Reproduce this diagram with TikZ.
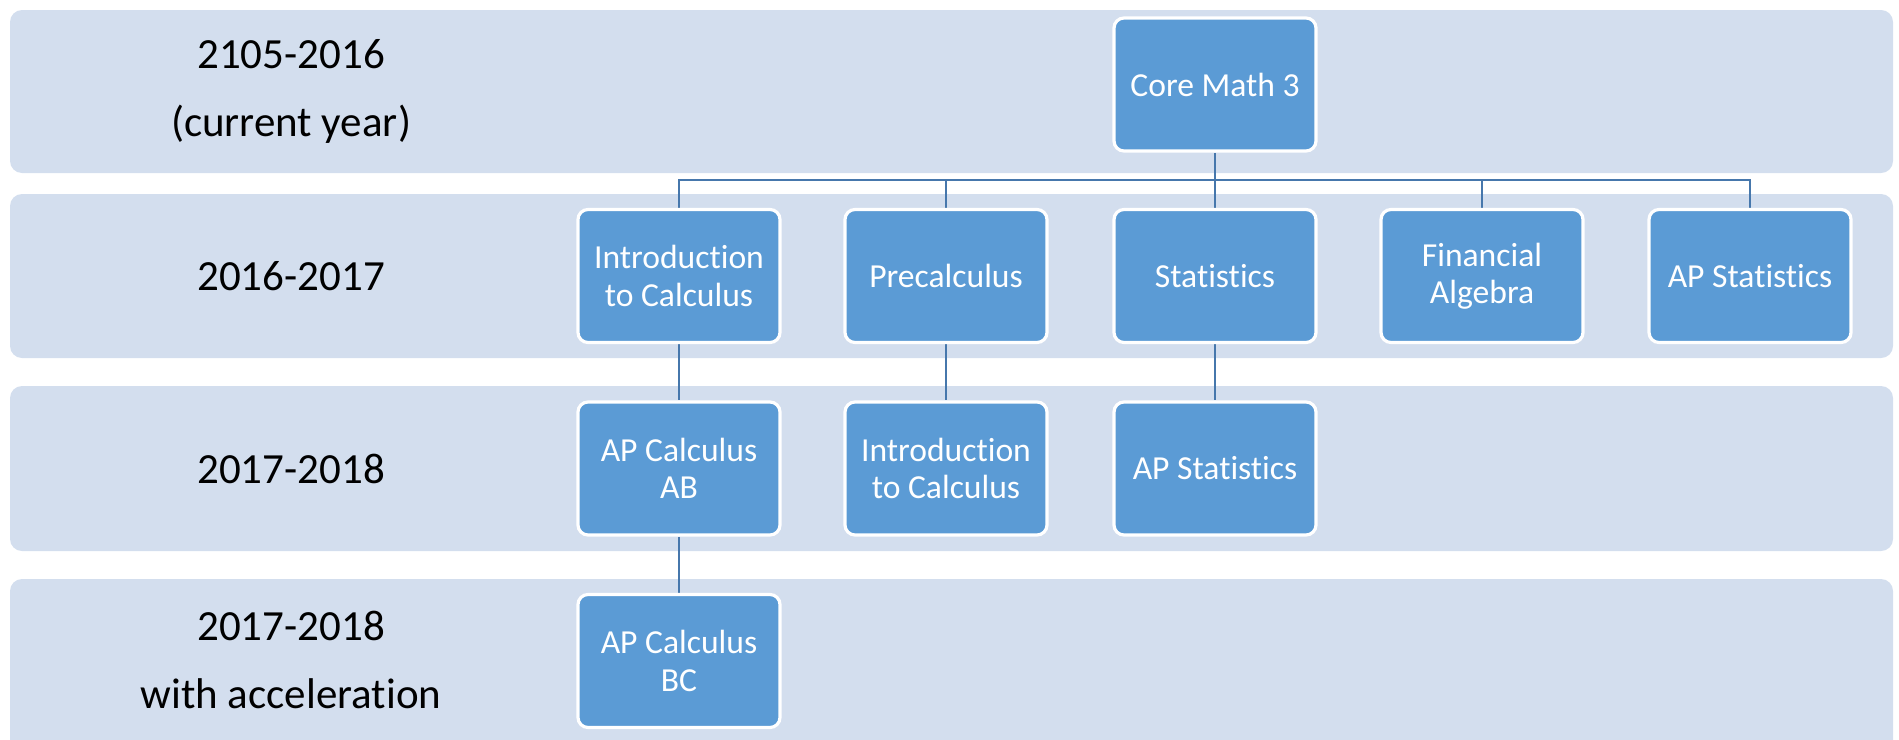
\documentclass[tikz,border=0pt]{standalone}
\usepackage{fontspec}
\setmainfont{Carlito}[Ligatures={NoCommon}]
\usetikzlibrary{backgrounds}
\definecolor{bandc}{HTML}{D3DEEE}
\definecolor{boxc}{HTML}{5B9BD5}
\definecolor{linec}{HTML}{4677AC}
\begin{document}
\begin{tikzpicture}[x=0.5pt,y=-0.5pt,
  course/.style={draw=white, line width=1.6pt, fill=boxc, rounded corners=5pt,
    minimum width=101pt, minimum height=66.5pt, align=center, text=white,
    font=\fontsize{16.8}{18.7}\selectfont, inner sep=0pt},
  yearlabel/.style={align=center, font=\fontsize{21.5}{34}\selectfont, text=black, inner sep=0pt},
  band/.style={fill=bandc, rounded corners=6pt},
  link/.style={draw=linec, line width=1.1pt}]
\useasboundingbox (0,0) rectangle (1899,739);
% year labels
\node[yearlabel] (y1) at (291,91) {2105-2016\\(current year)};
\node[yearlabel] (y2) at (291,276) {2016-2017};
\node[yearlabel] (y3) at (291,469) {2017-2018};
\node[yearlabel] (y4) at (291,660) {2017-2018\\with acceleration};
% courses
\node[course] (core) at (1215,84.5) {Core Math 3};
\node[course] (intro1) at (679,276) {Introduction\\to Calculus};
\node[course] (precalc) at (946,276) {Precalculus};
\node[course] (stats) at (1215,276) {Statistics};
\node[course] (fin) at (1482,276) {Financial\\Algebra};
\node[course] (apstat1) at (1750,276) {AP Statistics};
\node[course] (apab) at (679,468.5) {AP Calculus\\AB};
\node[course] (intro2) at (946,468.5) {Introduction\\to Calculus};
\node[course] (apstat2) at (1215,468.5) {AP Statistics};
\node[course] (apbc) at (679,661) {AP Calculus\\BC};
\coordinate (bus) at (1215,180);
\begin{pgfonlayer}{background}
  \fill[band] (10,10) rectangle (1893,173);
  \fill[band] (10,194) rectangle (1893,358);
  \fill[band] (10,386) rectangle (1893,551);
  \fill[band] (10,579) rectangle (1893,770);
  \draw[link] (core.south) -- (bus);
  \draw[link] (intro1.north) |- (bus);
  \draw[link] (precalc.north) |- (bus);
  \draw[link] (stats.north) |- (bus);
  \draw[link] (fin.north) |- (bus);
  \draw[link] (apstat1.north) |- (bus);
  \draw[link] (intro1.south) -- (apab.north);
  \draw[link] (precalc.south) -- (intro2.north);
  \draw[link] (stats.south) -- (apstat2.north);
  \draw[link] (apab.south) -- (apbc.north);
\end{pgfonlayer}
\end{tikzpicture}
\end{document}
